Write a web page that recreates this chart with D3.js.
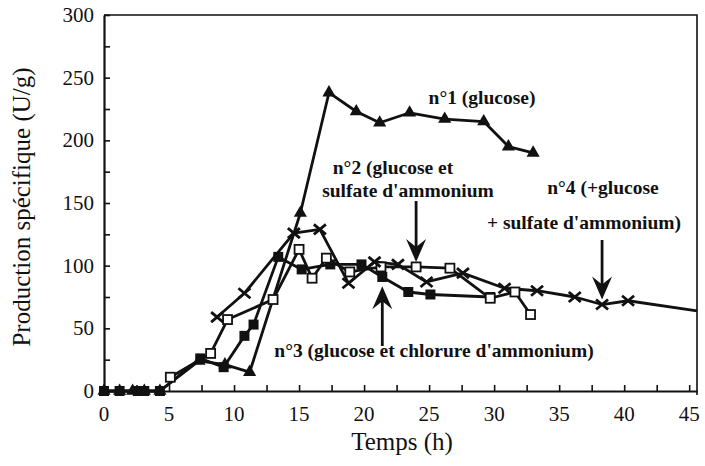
<!DOCTYPE html>
<html>
<head>
<meta charset="utf-8">
<script src="https://cdn.jsdelivr.net/npm/d3@7"></script>
<style>
  html, body { margin: 0; padding: 0; background: #fff; }
  svg { display: block; }
  text { font-family: "Liberation Serif", "DejaVu Serif", serif; fill: #111; }
</style>
</head>
<body>
<svg id="chart" width="705" height="466"></svg>
<script>
// Time (h) and specific production (U/g) for each culture
const n1Time  = [0, 1.2, 2.2, 3.1, 4.3, 7.3, 9.3, 11.2, 15.1, 17.3, 19.4, 21.2, 23.5, 26.2, 29.2, 31.1, 33.0];
const n1Value = [0, 0, 0, 0, 0, 24, 21, 15, 142, 238, 223, 214, 222, 217, 215, 195, 190];

const n2Time  = [5.1, 8.2, 9.5, 13.0, 15.0, 16.0, 17.1, 18.9, 21.3, 24.0, 26.6, 29.7, 31.6, 32.8];
const n2Value = [11, 30, 57, 73, 113, 90, 106, 95, 99, 99, 98, 74, 79, 61];

const n3Time  = [0, 1.2, 2.6, 3.1, 4.3, 7.4, 9.2, 10.8, 11.5, 13.4, 15.2, 17.4, 19.8, 21.4, 23.4, 25.1, 29.7];
const n3Value = [0, 0, 0, 0, 0, 26, 19, 44, 53, 107, 97, 101, 101, 91, 79, 77, 75];

const n4Time  = [8.7, 10.8, 14.6, 16.6, 18.8, 20.8, 22.6, 24.8, 27.6, 30.8, 33.3, 36.2, 38.3, 40.3, 45.6];
const n4Value = [59, 78, 126, 129, 86, 103, 101, 87, 94, 82, 80, 75, 69, 72, 64];

const xTickLabels = [0, 5, 10, 15, 20, 25, 30, 35, 40, 45];
const yTickLabels = [0, 50, 100, 150, 200, 250, 300];

const xTitle = "Temps (h)";
const yTitle = "Production spécifique (U/g)";

const svg = d3.select("#chart");
const x = d3.scaleLinear().domain([0, 45.6]).range([104, 697]);
const y = d3.scaleLinear().domain([0, 300]).range([391, 15]);

const zip = (ts, vs) => ts.map((t, i) => ({ t, v: vs[i] }));
const line = d3.line().x(d => x(d.t)).y(d => y(d.v));

// Frame: axes on the left/bottom, plain border on top/right
const ink = "#111";
svg.append("path")
  .attr("d", `M${x(0)},${y(300)}H${x(45.6)}V${y(0) + 4}`)
  .attr("fill", "none").attr("stroke", ink).attr("stroke-width", 1.6);

const xAxis = svg.append("g").attr("transform", `translate(0,${y(0)})`)
  .call(d3.axisBottom(x).tickValues(d3.range(0, 45.1, 2.5)).tickSizeInner(-6).tickSizeOuter(0).tickFormat(""));
const yAxis = svg.append("g").attr("transform", `translate(${x(0)},0)`)
  .call(d3.axisLeft(y).tickValues(d3.range(0, 301, 25)).tickSizeInner(-6).tickSizeOuter(0).tickFormat(""));
[xAxis, yAxis].forEach(g => {
  g.select(".domain").attr("stroke", ink).attr("stroke-width", 2.2);
  g.selectAll(".tick line").attr("stroke", ink).attr("stroke-width", 1.6);
});

// Tick labels
svg.append("g").selectAll("text").data(xTickLabels).join("text")
  .attr("x", d => x(d)).attr("y", y(0) + 30)
  .attr("text-anchor", "middle").attr("font-size", 21).text(d => d);
svg.append("g").selectAll("text").data(yTickLabels).join("text")
  .attr("x", x(0) - 10).attr("y", d => y(d) + 7)
  .attr("text-anchor", "end").attr("font-size", 21).text(d => d);

// Axis titles
svg.append("text").attr("x", 402).attr("y", 450)
  .attr("text-anchor", "middle").attr("font-size", 25).text(xTitle);
svg.append("text").attr("transform", `translate(30,207) rotate(-90)`)
  .attr("text-anchor", "middle").attr("font-size", 25).text(yTitle);

// Series lines
const series = [
  { data: zip(n1Time, n1Value), marker: "triangle" },
  { data: zip(n3Time, n3Value), marker: "filled" },
  { data: zip(n2Time, n2Value), marker: "open" },
  { data: zip(n4Time, n4Value), marker: "cross" }
];
series.forEach(s => {
  svg.append("path").datum(s.data).attr("d", line)
    .attr("fill", "none").attr("stroke", ink).attr("stroke-width", 2.8)
    .attr("stroke-linejoin", "round");
});

// Markers
const tri = d3.symbol().type(d3.symbolTriangle).size(75);
series.forEach(s => {
  const g = svg.append("g");
  const pts = s.marker === "cross" ? s.data.slice(0, -1) : s.data;
  pts.forEach(d => {
    const cx = x(d.t), cy = y(d.v);
    if (s.marker === "triangle") {
      g.append("path").attr("d", tri()).attr("transform", `translate(${cx},${cy})`).attr("fill", ink);
    } else if (s.marker === "filled") {
      g.append("rect").attr("x", cx - 5).attr("y", cy - 5).attr("width", 10).attr("height", 10).attr("fill", ink);
    } else if (s.marker === "open") {
      g.append("rect").attr("x", cx - 4.5).attr("y", cy - 4.5).attr("width", 9).attr("height", 9)
        .attr("fill", "#fff").attr("stroke", ink).attr("stroke-width", 1.8);
    } else {
      g.append("path").attr("d", `M${cx-6},${cy-5}L${cx+6},${cy+5}M${cx-6},${cy+5}L${cx+6},${cy-5}`)
        .attr("stroke", ink).attr("stroke-width", 2.8);
    }
  });
});

// Annotations
const notes = [
  { x: 482, y: 104, text: "n°1 (glucose)" },
  { x: 393, y: 174, text: "n°2 (glucose et" },
  { x: 408, y: 197, text: "sulfate d'ammonium" },
  { x: 603, y: 194, text: "n°4 (+glucose" },
  { x: 584, y: 229, text: "+ sulfate d'ammonium)" },
  { x: 434, y: 357, text: "n°3 (glucose et chlorure d'ammonium)" }
];
svg.append("g").selectAll("text").data(notes).join("text")
  .attr("x", d => d.x).attr("y", d => d.y).attr("text-anchor", "middle")
  .attr("font-size", 19.5).attr("font-weight", "bold").text(d => d.text);

// Arrows pointing at the feeding times
function arrow(xp, yFrom, yTo) {
  const dir = yTo > yFrom ? 1 : -1;
  svg.append("line").attr("x1", xp).attr("x2", xp).attr("y1", yFrom).attr("y2", yTo - dir * 14)
    .attr("stroke", ink).attr("stroke-width", 2.8);
  svg.append("path")
    .attr("d", `M${xp},${yTo}L${xp-10},${yTo - dir*23}L${xp},${yTo - dir*15}L${xp+10},${yTo - dir*23}Z`)
    .attr("fill", ink);
}
arrow(x(24.0), 201, y(99) - 5);
arrow(x(38.3), 240, y(69) - 5);
arrow(x(21.4), 346, y(90) + 8);
</script>
</body>
</html>
